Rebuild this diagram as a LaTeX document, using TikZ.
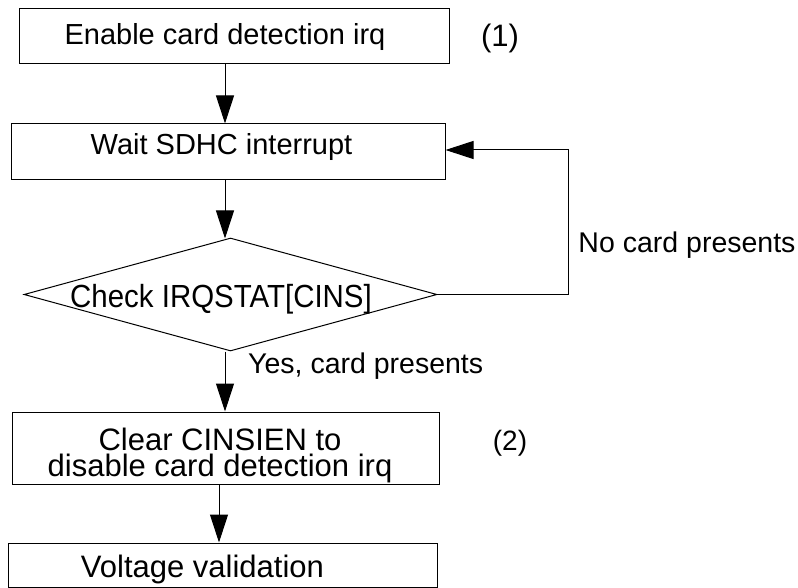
\documentclass[tikz,border=0pt]{standalone}
\usepackage{fontspec}
\setmainfont{Liberation Sans}
\usetikzlibrary{arrows.meta,shapes.geometric}
\begin{document}
\begin{tikzpicture}[x=1pt,y=-1pt,
  box/.style={draw, line width=1pt, inner sep=0pt, rectangle},
  dia/.style={draw, line width=1pt, inner sep=0pt, diamond, shape aspect=1},
  txt/.style={inner sep=0pt, anchor=base, text=black},
  arr/.style={line width=1pt, -{Triangle[length=28pt,width=18pt]}},
  ln/.style={line width=1pt}]
\useasboundingbox (0,0) rectangle (798,588);
% boxes
\node[box, minimum width=430pt, minimum height=55pt] (b1) at (234,36.5) {};
\node[box, minimum width=434pt, minimum height=56pt] (b2) at (228,152) {};
\node[dia, minimum width=413pt, minimum height=113pt] (d) at (230.5,294.5) {};
\node[box, minimum width=427pt, minimum height=72pt] (b3) at (225.5,448) {};
\node[box, minimum width=429pt, minimum height=44pt] (b4) at (222.5,565) {};
% texts
\node[txt, font=\fontsize{29}{32}\selectfont] (t1) at (225,45) {Enable card detection irq};
\node[txt, font=\fontsize{31}{34}\selectfont] (p1) at (500,46.5) {(1)};
\node[txt, font=\fontsize{29}{32}\selectfont] (t2) at (221.5,155) {Wait SDHC interrupt};
\node[txt, font=\fontsize{32}{34}\selectfont] (td) at (221,307) {\scalebox{0.92}[1]{Check IRQSTAT[CINS]}};
\node[txt, font=\fontsize{28.5}{31}\selectfont] (tno) at (687,253) {No card presents};
\node[txt, anchor=base west, font=\fontsize{28.5}{31}\selectfont] (tyes) at (248,373) {Yes, card presents};
\node[txt, align=center, font=\fontsize{31}{26}\selectfont] (t3) at (220,476) {Clear CINSIEN to\\disable card detection irq};
\node[txt, font=\fontsize{28}{30}\selectfont] (p2) at (510,450) {(2)};
\node[txt, font=\fontsize{31}{34}\selectfont] (t4) at (202.5,577) {Voltage validation};
% connector helpers
\coordinate (ax) at (225,0);
\coordinate (ax2) at (219,0);
\coordinate (lp) at (568,150);
% connectors
\draw[arr] (b1.south -| ax) -- (b2.north -| ax);
\draw[arr] (b2.south -| ax) -- ([yshift=-1pt]d.north -| ax);
\draw[arr] (d.south -| ax) -- (b3.north -| ax);
\draw[arr] (b3.south -| ax2) -- (b4.north -| ax2);
\draw[arr] (d.east) -| (lp) -- (b2.east |- lp);
\end{tikzpicture}
\end{document}
